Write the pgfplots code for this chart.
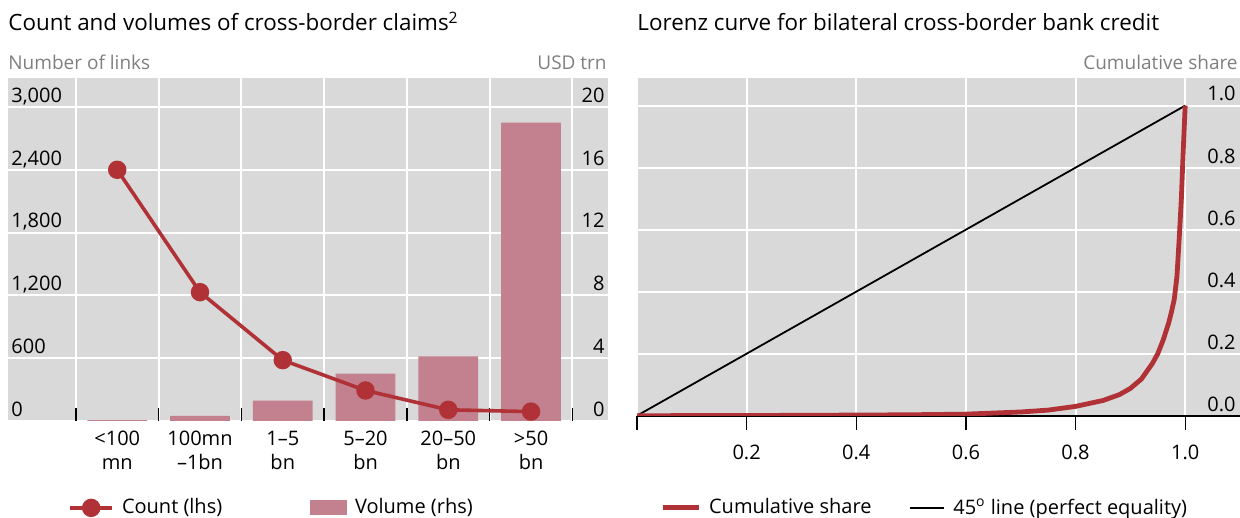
\documentclass[border=0pt]{standalone}
\usepackage{pgfplots}
\pgfplotsset{compat=1.18}
\usepackage{fontspec}
\setmainfont{Open Sans}

\definecolor{bisgrey}{HTML}{D9D9D9}
\definecolor{bisred}{HTML}{B03236}
\definecolor{bispink}{HTML}{C3808F}
\definecolor{labgrey}{HTML}{7F7F7F}

\newcommand{\ticksize}{\fontsize{10}{12}\selectfont}

\begin{document}
\begin{tikzpicture}
\path[use as bounding box] (0,0) rectangle (620pt,259pt);

% ---- left panel: volumes (rhs) with background and grid
\begin{axis}[
  at={(4pt,48.6pt)}, anchor=south west, scale only axis,
  width=300pt, height=171.4pt,
  xmin=-1.32, xmax=5.93, ymin=0, ymax=21.85,
  axis background/.style={fill=bisgrey},
  axis line style={draw=none},
  ybar, bar width=0.72,
  xtick={0,...,5},
  xticklabels={{<100\\mn},{100mn\\–1bn},{1–5\\bn},{5–20\\bn},{20–50\\bn},{>50\\bn}},
  xticklabel style={align=center, font=\ticksize, yshift=-1.5pt},
  major x tick style={draw=none},
  minor xtick={-0.5,0.5,...,5.5},
  minor x tick style={black, line width=0.7pt},
  minor tick length=6.5pt,
  xtick pos=bottom, tick align=inside,
  xminorgrids, minor x grid style={white, line width=1pt},
  ytick={0,4,...,20}, yticklabel pos=right,
  ymajorgrids, major y grid style={white, line width=1pt},
  ytick style={draw=none},
  yticklabel style={anchor=base east, inner xsep=1.5pt, yshift=2.3pt, font=\ticksize},
  /pgf/number format/assume math mode=true,
]
\addplot[fill=bispink, draw=none] coordinates {(0,0.05) (1,0.32) (2,1.28) (3,3.0) (4,4.1) (5,19.0)};
\end{axis}

% ---- left panel: count (lhs)
\begin{axis}[
  at={(4pt,48.6pt)}, anchor=south west, scale only axis,
  width=300pt, height=171.4pt,
  xmin=-1.32, xmax=5.93, ymin=0, ymax=3278,
  hide x axis,
  axis line style={draw=none},
  ytick={0,600,...,3000}, ytick pos=left,
  ytick style={draw=none},
  scaled y ticks=false,
  yticklabel style={anchor=base west, inner xsep=1.5pt, yshift=2.3pt, font=\ticksize,
    /pgf/number format/1000 sep={,}},
  /pgf/number format/assume math mode=true,
  legend columns=2,
  legend style={at={(0.1,-0.254)}, anchor=west, draw=none, fill=none,
    font=\ticksize, inner sep=0pt,
    /tikz/every odd column/.append style={column sep=2pt},
    /tikz/every even column/.append style={column sep=42pt}},
]
\addplot[bisred, line width=1.8pt, mark=*, mark size=3.7pt,
  legend image code/.code={\draw[mark repeat=2, mark phase=2] plot coordinates {(0pt,0pt) (10.5pt,0pt) (21pt,0pt)};}]
  coordinates {(0,2400) (1,1230) (2,580) (3,290) (4,105) (5,88)};
\addlegendentry{Count (lhs)}
\addlegendimage{legend image code/.code={\fill[bispink] (0pt,-3.5pt) rectangle (18pt,3.5pt);}}
\addlegendentry{Volume (rhs)}
\end{axis}

% ---- right panel: Lorenz curve
\begin{axis}[
  at={(318.5pt,51.15pt)}, anchor=south west, scale only axis,
  width=301.5pt, height=168.85pt,
  xmin=0, xmax=1.1, ymin=0, ymax=1.089,
  axis background/.style={fill=bisgrey},
  axis line style={draw=none},
  xtick={0,0.2,0.4,0.6,0.8,1},
  xticklabels={,0.2,0.4,0.6,0.8,1.0},
  xtick pos=bottom, xtick align=outside, major tick length=7pt,
  xtick style={black, line width=0.7pt},
  xticklabel style={font=\ticksize, yshift=-4pt},
  ytick={0.2,0.4,0.6,0.8,1}, yticklabel pos=right,
  ytick style={draw=none},
  extra y ticks={0}, extra y tick labels={0.0},
  extra y tick style={major grid style={black, line width=0.9pt}},
  yticklabel style={anchor=base east, inner xsep=2pt, yshift=2.3pt, font=\ticksize},
  /pgf/number format/.cd, fixed, fixed zerofill, precision=1, assume math mode=true,
  /pgfplots/.cd,
  grid=major, major grid style={white, line width=1pt},
  legend columns=2,
  legend style={at={(0.038,-0.273)}, anchor=west, draw=none, fill=none,
    font=\ticksize, inner sep=0pt,
    /tikz/every odd column/.append style={column sep=2pt},
    /tikz/every even column/.append style={column sep=17pt}},
]
\addplot[black, line width=0.9pt, forget plot] coordinates {(0,0) (1,1)};
\addplot[bisred, line width=2.4pt, line join=round,
  legend image code/.code={\draw (0pt,0pt) -- (18pt,0pt);}]
  coordinates {(0,0) (0.2,0.0005) (0.4,0.002) (0.5,0.003) (0.6,0.005) (0.7,0.012)
  (0.75,0.018) (0.8,0.03) (0.85,0.049) (0.88,0.068) (0.9,0.088) (0.92,0.118)
  (0.94,0.168) (0.95,0.2) (0.96,0.245) (0.97,0.3) (0.975,0.335) (0.98,0.375)
  (0.985,0.45) (0.99,0.6) (0.993,0.7) (0.996,0.836) (0.998,0.92) (1,1)};
\addlegendentry{Cumulative share}
\addlegendimage{black, line width=0.9pt, legend image code/.code={\draw (0pt,0pt) -- (17pt,0pt);}}
\addlegendentry{45\textsuperscript{o} line (perfect equality)}
\end{axis}

% ---- titles and unit labels
\node[anchor=base west, inner sep=0pt, font=\fontsize{11.2}{14}\selectfont] at (4pt,243.5pt)
  {Count and volumes of cross-border claims\textsuperscript{2}};
\node[anchor=base west, inner sep=0pt, font=\fontsize{11.2}{14}\selectfont] at (318.5pt,243.5pt)
  {Lorenz curve for bilateral cross-border bank credit};
\node[anchor=base west, inner sep=0pt, text=labgrey, font=\fontsize{9.5}{11}\selectfont] at (4pt,224pt) {Number of links};
\node[anchor=base east, inner sep=0pt, text=labgrey, font=\fontsize{9.5}{11}\selectfont] at (303.5pt,224pt) {USD trn};
\node[anchor=base east, inner sep=0pt, text=labgrey, font=\fontsize{9.5}{11}\selectfont] at (619pt,224pt) {Cumulative share};
\end{tikzpicture}
\end{document}
